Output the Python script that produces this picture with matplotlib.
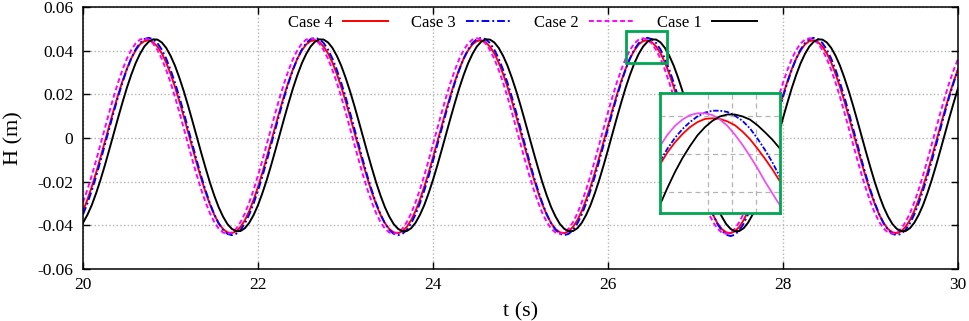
import numpy as np
import matplotlib
matplotlib.use("Agg")
import matplotlib.pyplot as plt
from matplotlib.patches import Rectangle

plt.rcParams['font.family'] = ['Liberation Serif', 'DejaVu Serif']

# time samples (s), one every 0.05 s
t = np.linspace(20, 30, 201)

# wave elevation H (m), one wave period per row
case4 = [
    -0.0334, -0.0282, -0.0223, -0.0158, -0.0088, -0.0016, 0.0057, 0.0129, 0.0197, 0.0260, 0.0316, 0.0364, 0.0401, 0.0429, 0.0444, 0.0448, 0.0439, 0.0419, 0.0388,
    0.0346, 0.0294, 0.0235, 0.0170, 0.0100, 0.0028, -0.0045, -0.0117, -0.0185, -0.0248, -0.0304, -0.0352, -0.0390, -0.0417, -0.0432, -0.0436, -0.0427, -0.0407, -0.0376,
    -0.0334, -0.0282, -0.0223, -0.0158, -0.0088, -0.0016, 0.0057, 0.0129, 0.0197, 0.0260, 0.0316, 0.0364, 0.0401, 0.0429, 0.0444, 0.0448, 0.0439, 0.0419, 0.0388,
    0.0346, 0.0294, 0.0235, 0.0170, 0.0100, 0.0028, -0.0045, -0.0117, -0.0185, -0.0248, -0.0304, -0.0352, -0.0390, -0.0417, -0.0432, -0.0436, -0.0427, -0.0407, -0.0376,
    -0.0334, -0.0282, -0.0223, -0.0158, -0.0088, -0.0016, 0.0057, 0.0129, 0.0197, 0.0260, 0.0316, 0.0364, 0.0401, 0.0429, 0.0444, 0.0448, 0.0439, 0.0419, 0.0388,
    0.0346, 0.0294, 0.0235, 0.0170, 0.0100, 0.0028, -0.0045, -0.0117, -0.0185, -0.0248, -0.0304, -0.0352, -0.0390, -0.0417, -0.0432, -0.0436, -0.0427, -0.0407, -0.0376,
    -0.0334, -0.0282, -0.0223, -0.0158, -0.0088, -0.0016, 0.0057, 0.0129, 0.0197, 0.0260, 0.0316, 0.0364, 0.0401, 0.0429, 0.0444, 0.0448, 0.0439, 0.0419, 0.0388,
    0.0346, 0.0294, 0.0235, 0.0170, 0.0100, 0.0028, -0.0045, -0.0117, -0.0185, -0.0248, -0.0304, -0.0352, -0.0390, -0.0417, -0.0432, -0.0436, -0.0427, -0.0407, -0.0376,
    -0.0334, -0.0282, -0.0223, -0.0158, -0.0088, -0.0016, 0.0057, 0.0129, 0.0197, 0.0260, 0.0316, 0.0364, 0.0401, 0.0429, 0.0444, 0.0448, 0.0439, 0.0419, 0.0388,
    0.0346, 0.0294, 0.0235, 0.0170, 0.0100, 0.0028, -0.0045, -0.0117, -0.0185, -0.0248, -0.0304, -0.0352, -0.0390, -0.0417, -0.0432, -0.0436, -0.0427, -0.0407, -0.0376,
    -0.0334, -0.0282, -0.0223, -0.0158, -0.0088, -0.0016, 0.0057, 0.0129, 0.0197, 0.0260, 0.0316,
]
case3 = [
    -0.0350, -0.0299, -0.0240, -0.0175, -0.0104, -0.0030, 0.0044, 0.0118, 0.0189, 0.0254, 0.0313, 0.0364, 0.0405, 0.0435, 0.0453, 0.0459, 0.0453, 0.0435, 0.0405,
    0.0364, 0.0313, 0.0254, 0.0189, 0.0118, 0.0044, -0.0030, -0.0104, -0.0175, -0.0240, -0.0299, -0.0350, -0.0391, -0.0421, -0.0439, -0.0445, -0.0439, -0.0421, -0.0391,
    -0.0350, -0.0299, -0.0240, -0.0175, -0.0104, -0.0030, 0.0044, 0.0118, 0.0189, 0.0254, 0.0313, 0.0364, 0.0405, 0.0435, 0.0453, 0.0459, 0.0453, 0.0435, 0.0405,
    0.0364, 0.0313, 0.0254, 0.0189, 0.0118, 0.0044, -0.0030, -0.0104, -0.0175, -0.0240, -0.0299, -0.0350, -0.0391, -0.0421, -0.0439, -0.0445, -0.0439, -0.0421, -0.0391,
    -0.0350, -0.0299, -0.0240, -0.0175, -0.0104, -0.0030, 0.0044, 0.0118, 0.0189, 0.0254, 0.0313, 0.0364, 0.0405, 0.0435, 0.0453, 0.0459, 0.0453, 0.0435, 0.0405,
    0.0364, 0.0313, 0.0254, 0.0189, 0.0118, 0.0044, -0.0030, -0.0104, -0.0175, -0.0240, -0.0299, -0.0350, -0.0391, -0.0421, -0.0439, -0.0445, -0.0439, -0.0421, -0.0391,
    -0.0350, -0.0299, -0.0240, -0.0175, -0.0104, -0.0030, 0.0044, 0.0118, 0.0189, 0.0254, 0.0313, 0.0364, 0.0405, 0.0435, 0.0453, 0.0459, 0.0453, 0.0435, 0.0405,
    0.0364, 0.0313, 0.0254, 0.0189, 0.0118, 0.0044, -0.0030, -0.0104, -0.0175, -0.0240, -0.0299, -0.0350, -0.0393, -0.0424, -0.0443, -0.0449, -0.0443, -0.0423, -0.0392,
    -0.0350, -0.0299, -0.0240, -0.0175, -0.0104, -0.0030, 0.0044, 0.0118, 0.0189, 0.0254, 0.0313, 0.0364, 0.0405, 0.0435, 0.0453, 0.0459, 0.0453, 0.0435, 0.0405,
    0.0364, 0.0313, 0.0254, 0.0189, 0.0118, 0.0044, -0.0030, -0.0104, -0.0175, -0.0240, -0.0299, -0.0350, -0.0391, -0.0421, -0.0439, -0.0445, -0.0439, -0.0421, -0.0391,
    -0.0350, -0.0299, -0.0240, -0.0175, -0.0104, -0.0030, 0.0044, 0.0118, 0.0189, 0.0254, 0.0313,
]
case2 = [
    -0.0294, -0.0236, -0.0171, -0.0101, -0.0028, 0.0046, 0.0119, 0.0189, 0.0254, 0.0312, 0.0363, 0.0403, 0.0433, 0.0451, 0.0457, 0.0451, 0.0433, 0.0403, 0.0363,
    0.0312, 0.0254, 0.0189, 0.0119, 0.0046, -0.0028, -0.0101, -0.0171, -0.0236, -0.0294, -0.0345, -0.0385, -0.0415, -0.0433, -0.0439, -0.0433, -0.0415, -0.0385, -0.0345,
    -0.0294, -0.0236, -0.0171, -0.0101, -0.0028, 0.0046, 0.0119, 0.0189, 0.0254, 0.0312, 0.0363, 0.0403, 0.0433, 0.0451, 0.0457, 0.0451, 0.0433, 0.0403, 0.0363,
    0.0312, 0.0254, 0.0189, 0.0119, 0.0046, -0.0028, -0.0101, -0.0171, -0.0236, -0.0294, -0.0345, -0.0385, -0.0415, -0.0433, -0.0439, -0.0433, -0.0415, -0.0385, -0.0345,
    -0.0294, -0.0236, -0.0171, -0.0101, -0.0028, 0.0046, 0.0119, 0.0189, 0.0254, 0.0312, 0.0363, 0.0403, 0.0433, 0.0451, 0.0457, 0.0451, 0.0433, 0.0403, 0.0363,
    0.0312, 0.0254, 0.0189, 0.0119, 0.0046, -0.0028, -0.0101, -0.0171, -0.0236, -0.0294, -0.0345, -0.0385, -0.0415, -0.0433, -0.0439, -0.0433, -0.0415, -0.0385, -0.0345,
    -0.0294, -0.0236, -0.0171, -0.0101, -0.0028, 0.0046, 0.0119, 0.0189, 0.0254, 0.0312, 0.0363, 0.0403, 0.0433, 0.0451, 0.0457, 0.0451, 0.0433, 0.0403, 0.0363,
    0.0312, 0.0254, 0.0189, 0.0119, 0.0046, -0.0028, -0.0101, -0.0171, -0.0236, -0.0294, -0.0345, -0.0385, -0.0415, -0.0433, -0.0439, -0.0433, -0.0415, -0.0385, -0.0345,
    -0.0294, -0.0236, -0.0171, -0.0101, -0.0028, 0.0046, 0.0119, 0.0189, 0.0254, 0.0312, 0.0363, 0.0403, 0.0433, 0.0451, 0.0457, 0.0451, 0.0433, 0.0403, 0.0363,
    0.0312, 0.0254, 0.0189, 0.0119, 0.0046, -0.0028, -0.0101, -0.0171, -0.0236, -0.0294, -0.0345, -0.0385, -0.0415, -0.0433, -0.0439, -0.0433, -0.0415, -0.0385, -0.0345,
    -0.0294, -0.0236, -0.0171, -0.0101, -0.0028, 0.0046, 0.0119, 0.0189, 0.0254, 0.0312, 0.0363,
]
case1 = [
    -0.0388, -0.0352, -0.0307, -0.0252, -0.0191, -0.0124, -0.0053, 0.0020, 0.0092, 0.0162, 0.0229, 0.0289, 0.0342, 0.0385, 0.0419, 0.0441, 0.0452, 0.0451, 0.0438,
    0.0413, 0.0377, 0.0332, 0.0277, 0.0216, 0.0149, 0.0078, 0.0005, -0.0067, -0.0137, -0.0204, -0.0264, -0.0317, -0.0360, -0.0394, -0.0416, -0.0427, -0.0426, -0.0413,
    -0.0388, -0.0352, -0.0307, -0.0252, -0.0191, -0.0124, -0.0053, 0.0020, 0.0092, 0.0162, 0.0229, 0.0289, 0.0342, 0.0385, 0.0419, 0.0441, 0.0452, 0.0451, 0.0438,
    0.0413, 0.0377, 0.0332, 0.0277, 0.0216, 0.0149, 0.0078, 0.0005, -0.0067, -0.0137, -0.0204, -0.0264, -0.0317, -0.0360, -0.0394, -0.0416, -0.0427, -0.0426, -0.0413,
    -0.0388, -0.0352, -0.0307, -0.0252, -0.0191, -0.0124, -0.0053, 0.0020, 0.0092, 0.0162, 0.0229, 0.0289, 0.0342, 0.0385, 0.0419, 0.0441, 0.0452, 0.0451, 0.0438,
    0.0413, 0.0377, 0.0332, 0.0277, 0.0216, 0.0149, 0.0078, 0.0005, -0.0067, -0.0137, -0.0204, -0.0264, -0.0317, -0.0360, -0.0394, -0.0416, -0.0427, -0.0426, -0.0413,
    -0.0388, -0.0352, -0.0307, -0.0252, -0.0191, -0.0124, -0.0053, 0.0020, 0.0092, 0.0162, 0.0229, 0.0289, 0.0342, 0.0385, 0.0419, 0.0441, 0.0452, 0.0451, 0.0438,
    0.0413, 0.0377, 0.0332, 0.0277, 0.0216, 0.0149, 0.0078, 0.0005, -0.0067, -0.0137, -0.0204, -0.0264, -0.0317, -0.0360, -0.0394, -0.0416, -0.0427, -0.0426, -0.0413,
    -0.0388, -0.0352, -0.0307, -0.0252, -0.0191, -0.0124, -0.0053, 0.0020, 0.0092, 0.0162, 0.0229, 0.0289, 0.0342, 0.0385, 0.0419, 0.0441, 0.0452, 0.0451, 0.0438,
    0.0413, 0.0377, 0.0332, 0.0277, 0.0216, 0.0149, 0.0078, 0.0005, -0.0067, -0.0137, -0.0204, -0.0264, -0.0317, -0.0360, -0.0394, -0.0416, -0.0427, -0.0426, -0.0413,
    -0.0388, -0.0352, -0.0307, -0.0252, -0.0191, -0.0124, -0.0053, 0.0020, 0.0092, 0.0162, 0.0229,
]

# zoom on the crest near t = 26.5 s (inset)
t_zoom = [26.28, 26.305, 26.33, 26.355, 26.38, 26.405, 26.43, 26.455, 26.48,
          26.505, 26.53, 26.555, 26.58, 26.605, 26.63, 26.655, 26.68]
zoom4 = [0.0373, 0.0392, 0.0408, 0.0421, 0.0432, 0.0440, 0.0445, 0.0446, 0.0445,
         0.0441, 0.0435, 0.0425, 0.0413, 0.0398, 0.0382, 0.0365, 0.0346]
zoom3 = [0.0378, 0.0398, 0.0415, 0.0429, 0.0440, 0.0449, 0.0455, 0.0458, 0.0458,
         0.0456, 0.0450, 0.0442, 0.0430, 0.0414, 0.0396, 0.0376, 0.0353]
zoom2 = [0.0402, 0.0420, 0.0434, 0.0444, 0.0451, 0.0454, 0.0454, 0.0451, 0.0444,
         0.0434, 0.0420, 0.0404, 0.0386, 0.0367, 0.0346, 0.0327, 0.0308]
zoom1 = [0.0309, 0.0336, 0.0361, 0.0383, 0.0402, 0.0419, 0.0432, 0.0442, 0.0449,
         0.0452, 0.0452, 0.0449, 0.0444, 0.0435, 0.0424, 0.0412, 0.0398]

labels = ['Case 4', 'Case 3', 'Case 2', 'Case 1']
xticks = [20, 22, 24, 26, 28, 30]
yticks = [-0.06, -0.04, -0.02, 0, 0.02, 0.04, 0.06]
ytick_labels = ['-0.06', '-0.04', '-0.02', '0', '0.02', '0.04', '0.06']

colors = ['#ff0000', '#0000ff', '#ff00ff', '#000000']
styles = ['-', (0, (4, 1.5, 1, 1.5)), (0, (2.5, 1.5)), '-']
green = '#00a651'

fig = plt.figure(figsize=(9.69, 3.21), dpi=100)
ax = fig.add_axes([0.0857, 0.162, 0.903, 0.816])

for y, lab, c, ls in zip([case4, case3, case2, case1], labels, colors, styles):
    ax.plot(t, y, color=c, linestyle=ls, linewidth=1.4, label=lab)

ax.set_xlim(20, 30)
ax.set_ylim(-0.06, 0.06)
ax.set_xticks(xticks)
ax.set_xticklabels([str(v) for v in xticks])
ax.set_yticks(yticks)
ax.set_yticklabels(ytick_labels)
ax.tick_params(direction='in', top=True, right=True, length=5, width=1,
               labelsize=12.5)
ax.tick_params(axis='y', pad=7)
ax.tick_params(axis='x', pad=6)
ax.grid(True, color='#b4b4b4', linestyle=':', linewidth=1)
for s in ax.spines.values():
    s.set_linewidth(1.1)

ax.set_xlabel('t (s)', fontsize=16)
ax.set_ylabel('H (m)', fontsize=16)
ax.xaxis.set_label_coords(0.5, -0.125)
ax.yaxis.set_label_coords(-0.068, 0.5)

ax.legend(loc='center', bbox_to_anchor=(0.502, 0.939), ncol=4, frameon=False,
          markerfirst=False, fontsize=12, handlelength=2.7, handletextpad=0.6,
          columnspacing=1.4, borderpad=0)

# zoom box on the main axes
ax.add_patch(Rectangle((26.21, 0.0343), 0.46, 0.0147, fill=False,
                       edgecolor=green, linewidth=2, zorder=5))

# inset
axin = fig.add_axes([0.6811, 0.3364, 0.1238, 0.3738])
axin.set_facecolor('white')
inset_colors = ['#ff0000', '#0000ff', '#f050f0', '#000000']
inset_styles = ['-', (0, (3, 1, 1, 1)), '-', '-']
for y, c, ls in zip([zoom4, zoom3, zoom2, zoom1], inset_colors, inset_styles):
    axin.plot(t_zoom, y, color=c, linestyle=ls, linewidth=1.3)
axin.set_xlim(26.28, 26.68)
axin.set_ylim(0.0296, 0.0486)
axin.set_xticks([26.44, 26.52, 26.60])
axin.set_yticks([0.033, 0.039, 0.045])
axin.tick_params(length=0, labelbottom=False, labelleft=False)
axin.grid(True, color='#b4b4b4', linestyle=(0, (4, 3)), linewidth=0.9)
for s in axin.spines.values():
    s.set_edgecolor(green)
    s.set_linewidth(2)

fig.savefig('out.png', dpi=100)
